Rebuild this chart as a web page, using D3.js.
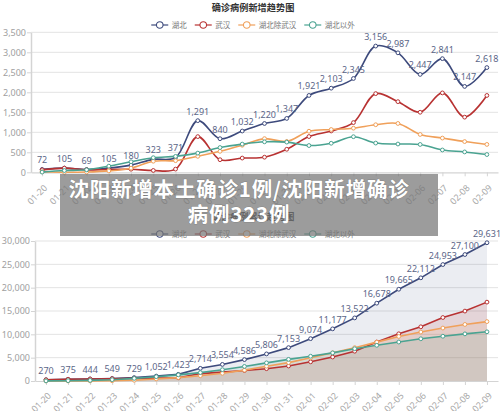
<!DOCTYPE html>
<html><head><meta charset="utf-8">
<script src="https://cdn.jsdelivr.net/npm/d3@7/dist/d3.min.js"></script>
<style>
html,body{margin:0;padding:0;background:#fff;}
svg{display:block;font-family:"Noto Sans CJK SC","Noto Sans",sans-serif;}
</style>
</head><body>
<svg id="c" width="500" height="411"></svg>
<script>
const dates = ["01-20","01-21","01-22","01-23","01-24","01-25","01-26","01-27","01-28","01-29","01-30","01-31","02-01","02-02","02-03","02-04","02-05","02-06","02-07","02-08","02-09"];
const seriesNames = ["湖北","武汉","湖北除武汉","湖北以外"];
const seriesColors = ["#3d4a7c","#b83232","#f0a05a","#4aa391"];

// daily new confirmed
const dailyHubei   = [72,105,69,105,180,323,371,1291,840,1032,1220,1347,1921,2103,2345,3156,2987,2447,2841,2147,2618];
const dailyWuhan   = [60,105,62,70,77,46,80,892,315,356,378,576,894,1033,1242,1967,1766,1501,1985,1379,1921];
const dailyHubeiEx = [12,0,7,35,103,277,291,399,525,676,842,771,1027,1070,1103,1189,1221,946,856,768,697];
const dailyOutside = [5,44,62,154,264,365,398,480,619,705,762,755,669,726,890,731,707,696,558,509,444];

// cumulative confirmed
const cumHubei   = [270,375,444,549,729,1052,1423,2714,3554,4586,5806,7153,9074,11177,13522,16678,19665,22112,24953,27100,29631];
const cumWuhan   = [258,363,425,495,572,618,698,1590,1905,2261,2639,3215,4109,5142,6384,8351,10117,11618,13603,14982,16902];
const cumHubeiEx = [12,12,19,54,157,434,725,1124,1649,2325,3167,3938,4965,6035,7138,8327,9548,10494,11350,12118,12729];
const cumOutside = [21,65,127,281,558,923,1321,1801,2420,3125,3886,4638,5306,6028,6916,7646,8353,9049,9593,10098,10540];

const yTicksDaily = [0,500,1000,1500,2000,2500,3000,3500];
const yTicksCum = [0,5000,10000,15000,20000,25000,30000];
const titles = ["确诊病例新增趋势图","确诊病例累计趋势图"];
const overlayLines = ["沈阳新增本土确诊1例/沈阳新增确诊","病例323例"];

const svg = d3.select("#c");
const fmt = d3.format(",");

function drawChart(cfg){
  const g = svg.append("g");
  const x = d3.scalePoint().domain(dates).range([cfg.left, cfg.right]).padding(0.5);
  const y = d3.scaleLinear().domain([0, d3.max(cfg.ticks)]).range([cfg.bottom, cfg.top]);

  // title
  g.append("text").attr("x", 253).attr("y", cfg.titleY).attr("text-anchor","middle")
    .attr("font-size", 9.2).attr("font-weight","bold").attr("fill","#333").text(cfg.title);

  // legend
  const lg = g.append("g");
  let cx = 0;
  seriesNames.forEach((n,i)=>{
    const it = lg.append("g").attr("transform", `translate(${cx},0)`);
    it.append("line").attr("x1",0).attr("x2",17).attr("y1",0).attr("y2",0).attr("stroke",seriesColors[i]).attr("stroke-width",1.2);
    it.append("circle").attr("cx",8.5).attr("cy",0).attr("r",3.3).attr("fill","#fff").attr("stroke",seriesColors[i]).attr("stroke-width",1.1);
    const t = it.append("text").attr("x",20.5).attr("y",0).attr("dy","0.35em").attr("font-size",7.5).attr("fill","#777").text(n);
    cx += 20.5 + t.node().getComputedTextLength() + 8;
  });
  const lw = cx - 8;
  lg.attr("transform", `translate(${253 - lw/2},${cfg.legendY})`);

  // grid
  g.append("g").selectAll("line").data(cfg.ticks.filter(d=>d>0)).join("line")
    .attr("x1", cfg.left).attr("x2", cfg.right).attr("y1", d=>y(d)).attr("y2", d=>y(d))
    .attr("stroke","#e3e3e3").attr("stroke-width",1);

  // y axis
  const ya = g.append("g").attr("transform",`translate(${cfg.left},0)`)
    .call(d3.axisLeft(y).tickValues(cfg.ticks).tickSize(4).tickSizeOuter(0).tickFormat(fmt));
  ya.select(".domain").attr("stroke","#d4d4d4").attr("stroke-width",1.5);
  ya.selectAll(".tick line").attr("stroke","#d4d4d4");
  ya.selectAll(".tick text").attr("fill","#a0a0a0").attr("font-size",9).attr("font-family","'Noto Sans',sans-serif").attr("x",-5);

  // x axis
  const xa = g.append("g").attr("transform",`translate(0,${cfg.bottom})`)
    .call(d3.axisBottom(x).tickSize(4).tickSizeOuter(0));
  xa.select(".domain").attr("stroke","#d4d4d4").attr("stroke-width",1.2);
  xa.selectAll(".tick line").attr("stroke","#d4d4d4");
  xa.selectAll(".tick text").attr("fill","#a8a8a8").attr("font-size",9).attr("font-family","'Noto Sans',sans-serif")
    .attr("text-anchor","end").attr("dy","0.35em").attr("y",0)
    .attr("transform",`translate(3,${cfg.xLabelOff}) rotate(-45)`);

  const curve = cfg.smooth ? d3.curveCatmullRom.alpha(0.5) : d3.curveLinear;

  cfg.series.forEach((vals,i)=>{
    const data = vals.map((v,j)=>({d:dates[j],v}));
    if(cfg.area){
      g.append("path").datum(data)
        .attr("d", d3.area().x(p=>x(p.d)).y0(y(0)).y1(p=>y(p.v)).curve(curve))
        .attr("fill", seriesColors[i]).attr("fill-opacity", i===0?0.1:0.13);
    }
  });
  cfg.series.forEach((vals,i)=>{
    const data = vals.map((v,j)=>({d:dates[j],v}));
    g.append("path").datum(data)
      .attr("d", d3.line().x(p=>x(p.d)).y(p=>y(p.v)).curve(curve))
      .attr("fill","none").attr("stroke", seriesColors[i]).attr("stroke-width",1.6);
    g.append("g").selectAll("circle").data(data).join("circle")
      .attr("cx",p=>x(p.d)).attr("cy",p=>y(p.v)).attr("r",1.9)
      .attr("fill","#fff").attr("stroke",seriesColors[i]).attr("stroke-width",1);
  });
  // labels on 湖北 series
  g.append("g").selectAll("text").data(cfg.series[0].map((v,j)=>({d:dates[j],v}))).join("text")
    .attr("x",p=>x(p.d)).attr("y",p=>y(p.v)-6).attr("text-anchor","middle")
    .attr("font-size",9).attr("font-family","'Noto Sans',sans-serif").attr("fill","#5b6688").text(p=>fmt(p.v));
}

drawChart({left:31,right:498,top:32.3,bottom:172.3,ticks:yTicksDaily,title:titles[0],titleY:11,legendY:25,
  series:[dailyHubei,dailyWuhan,dailyHubeiEx,dailyOutside],smooth:true,area:false,xLabelOff:14});
drawChart({left:35,right:498,top:241,bottom:381,ticks:yTicksCum,title:titles[1],titleY:220,legendY:234,
  series:[cumHubei,cumWuhan,cumHubeiEx,cumOutside],smooth:false,area:true,xLabelOff:13});

// overlay
const ov = svg.append("g");
ov.append("rect").attr("x",60).attr("y",174).attr("width",378).attr("height",62).attr("fill","rgba(118,118,118,0.72)");
overlayLines.forEach((t,i)=>{
  ov.append("text").attr("x",239).attr("y",197+i*24.5).attr("text-anchor","middle")
    .attr("font-size",20.5).attr("font-weight","bold").attr("fill","#fff").attr("letter-spacing",0.8)
    .style("paint-order","stroke").attr("stroke","rgba(60,60,60,0.25)").attr("stroke-width",1)
    .text(t);
});
</script>
</body></html>
